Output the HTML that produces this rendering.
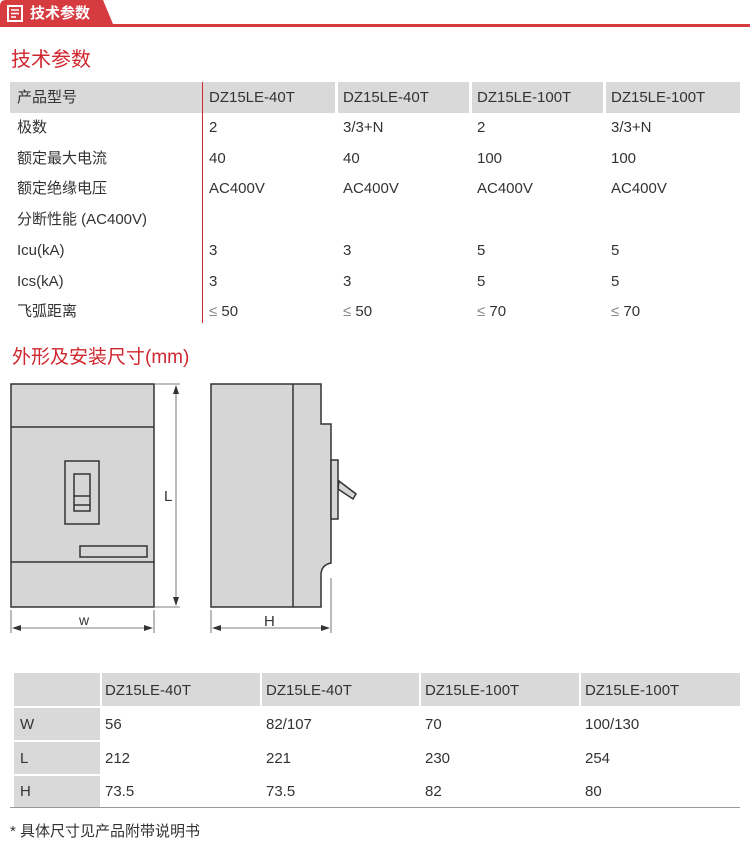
<!DOCTYPE html>
<html><head><meta charset="utf-8">
<style>
*{margin:0;padding:0;box-sizing:border-box}
body{width:750px;height:853px;background:#fff;position:relative;overflow:hidden;font-family:"Liberation Sans","Noto Sans CJK SC",sans-serif;color:#333}
.a{position:absolute;white-space:nowrap;line-height:17px}
.t{font-size:15px;color:#333}
.g{background:#d9d9d9}
.red{color:#d0262e}
</style></head><body>
<svg class="a" style="left:0;top:0" width="750" height="30">
<path d="M0 27 V6 Q0 0 6 0 H103 L113 24 H750 V27 Z" fill="#d63b40"/>
<rect x="0" y="24" width="750" height="3" fill="#d63b40"/>
<rect x="8" y="6" width="14" height="15" fill="none" stroke="#fff" stroke-width="2"/>
<line x1="11" y1="10" x2="19" y2="10" stroke="#fff" stroke-width="1.5"/>
<line x1="11" y1="13.5" x2="19" y2="13.5" stroke="#fff" stroke-width="1.5"/>
<line x1="11" y1="17" x2="16" y2="17" stroke="#fff" stroke-width="1.5"/>
</svg>
<div class="a" style="left:30px;top:5px;font-size:15px;font-weight:bold;color:#fff">技术参数</div>
<div class="a red" style="left:11px;top:49px;font-size:20px;line-height:22px">技术参数</div>

<div class="a g" style="left:10px;top:82px;width:192px;height:31px"></div>
<div class="a g" style="left:203px;top:82px;width:132px;height:31px"></div>
<div class="a g" style="left:338px;top:82px;width:131px;height:31px"></div>
<div class="a g" style="left:472px;top:82px;width:131px;height:31px"></div>
<div class="a g" style="left:606px;top:82px;width:134px;height:31px"></div>
<div class="a" style="left:202px;top:82px;width:1px;height:241px;background:#d0262e"></div>

<div class="a t" style="left:17px;top:89px">产品型号</div>
<div class="a t" style="left:209px;top:89px">DZ15LE-40T</div>
<div class="a t" style="left:343px;top:89px">DZ15LE-40T</div>
<div class="a t" style="left:477px;top:89px">DZ15LE-100T</div>
<div class="a t" style="left:611px;top:89px">DZ15LE-100T</div>

<div class="a t" style="left:17px;top:119px">极数</div>
<div class="a t" style="left:209px;top:119px">2</div>
<div class="a t" style="left:343px;top:119px">3/3+N</div>
<div class="a t" style="left:477px;top:119px">2</div>
<div class="a t" style="left:611px;top:119px">3/3+N</div>

<div class="a t" style="left:17px;top:150px">额定最大电流</div>
<div class="a t" style="left:209px;top:150px">40</div>
<div class="a t" style="left:343px;top:150px">40</div>
<div class="a t" style="left:477px;top:150px">100</div>
<div class="a t" style="left:611px;top:150px">100</div>

<div class="a t" style="left:17px;top:180px">额定绝缘电压</div>
<div class="a t" style="left:209px;top:180px">AC400V</div>
<div class="a t" style="left:343px;top:180px">AC400V</div>
<div class="a t" style="left:477px;top:180px">AC400V</div>
<div class="a t" style="left:611px;top:180px">AC400V</div>

<div class="a t" style="left:17px;top:211px">分断性能 (AC400V)</div>

<div class="a t" style="left:17px;top:242px">Icu(kA)</div>
<div class="a t" style="left:209px;top:242px">3</div>
<div class="a t" style="left:343px;top:242px">3</div>
<div class="a t" style="left:477px;top:242px">5</div>
<div class="a t" style="left:611px;top:242px">5</div>

<div class="a t" style="left:17px;top:273px">Ics(kA)</div>
<div class="a t" style="left:209px;top:273px">3</div>
<div class="a t" style="left:343px;top:273px">3</div>
<div class="a t" style="left:477px;top:273px">5</div>
<div class="a t" style="left:611px;top:273px">5</div>

<div class="a t" style="left:17px;top:303px">飞弧距离</div>
<div class="a t" style="left:209px;top:303px"><span style="color:#888">≤</span> 50</div>
<div class="a t" style="left:343px;top:303px"><span style="color:#888">≤</span> 50</div>
<div class="a t" style="left:477px;top:303px"><span style="color:#888">≤</span> 70</div>
<div class="a t" style="left:611px;top:303px"><span style="color:#888">≤</span> 70</div>

<div class="a red" style="left:12px;top:347px;font-size:19px;line-height:21px">外形及安装尺寸(mm)</div>

<svg class="a" style="left:0;top:375px" width="380" height="265" viewBox="0 375 380 265">
<g stroke="#333" stroke-width="1.5" fill="#d6d6d6">
<rect x="11" y="384" width="143" height="223"/>
<line x1="11" y1="427" x2="154" y2="427"/>
<line x1="11" y1="562" x2="154" y2="562"/>
<rect x="65" y="461" width="34" height="63"/>
<rect x="74" y="474" width="16" height="37"/>
<line x1="74" y1="496" x2="90" y2="496"/>
<line x1="74" y1="505" x2="90" y2="505"/>
<rect x="80" y="546" width="67" height="11"/>
<path d="M211 384 H321 V424 H331 V563 Q321 565 321 575 V607 H211 Z"/>
<line x1="293" y1="384" x2="293" y2="607"/>
<path d="M339 481 L356 494 L353 499 L338 489 Z"/>
<rect x="331" y="460" width="7" height="59"/>
</g>
<g stroke="#555" stroke-width="0.8" fill="none">
<line x1="155" y1="384" x2="180" y2="384"/>
<line x1="155" y1="607" x2="180" y2="607"/>
<line x1="176" y1="388" x2="176" y2="603"/>
<line x1="11" y1="610" x2="11" y2="633"/>
<line x1="154" y1="610" x2="154" y2="633"/>
<line x1="14" y1="628" x2="151" y2="628"/>
<line x1="211" y1="610" x2="211" y2="633"/>
<line x1="331" y1="578" x2="331" y2="633"/>
<line x1="214" y1="628" x2="328" y2="628"/>
</g>
<g fill="#333">
<path d="M176 385 L173 394 L179 394 Z"/>
<path d="M176 606 L173 597 L179 597 Z"/>
<path d="M12 628 L21 625 L21 631 Z"/>
<path d="M153 628 L144 625 L144 631 Z"/>
<path d="M212 628 L221 625 L221 631 Z"/>
<path d="M330 628 L321 625 L321 631 Z"/>
</g>
<text x="79" y="625" font-size="14" fill="#333" font-family="Liberation Sans">w</text>
<text x="264" y="626" font-size="15" fill="#333" font-family="Liberation Sans">H</text>
<text x="164" y="501" font-size="15" fill="#333" font-family="Liberation Sans">L</text>
</svg>

<div class="a g" style="left:14px;top:673px;width:86px;height:33px"></div>
<div class="a g" style="left:102px;top:673px;width:158px;height:33px"></div>
<div class="a g" style="left:262px;top:673px;width:157px;height:33px"></div>
<div class="a g" style="left:421px;top:673px;width:158px;height:33px"></div>
<div class="a g" style="left:581px;top:673px;width:159px;height:33px"></div>
<div class="a g" style="left:14px;top:708px;width:86px;height:32px"></div>
<div class="a g" style="left:14px;top:742px;width:86px;height:32px"></div>
<div class="a g" style="left:14px;top:776px;width:86px;height:32px"></div>
<div class="a" style="left:10px;top:807px;width:730px;height:1px;background:#999"></div>

<div class="a t" style="left:105px;top:682px">DZ15LE-40T</div>
<div class="a t" style="left:266px;top:682px">DZ15LE-40T</div>
<div class="a t" style="left:425px;top:682px">DZ15LE-100T</div>
<div class="a t" style="left:585px;top:682px">DZ15LE-100T</div>

<div class="a t" style="left:20px;top:716px">W</div>
<div class="a t" style="left:105px;top:716px">56</div>
<div class="a t" style="left:266px;top:716px">82/107</div>
<div class="a t" style="left:425px;top:716px">70</div>
<div class="a t" style="left:585px;top:716px">100/130</div>

<div class="a t" style="left:20px;top:750px">L</div>
<div class="a t" style="left:105px;top:750px">212</div>
<div class="a t" style="left:266px;top:750px">221</div>
<div class="a t" style="left:425px;top:750px">230</div>
<div class="a t" style="left:585px;top:750px">254</div>

<div class="a t" style="left:20px;top:783px">H</div>
<div class="a t" style="left:105px;top:783px">73.5</div>
<div class="a t" style="left:266px;top:783px">73.5</div>
<div class="a t" style="left:425px;top:783px">82</div>
<div class="a t" style="left:585px;top:783px">80</div>

<div class="a t" style="left:10px;top:823px">* 具体尺寸见产品附带说明书</div>
</body></html>
